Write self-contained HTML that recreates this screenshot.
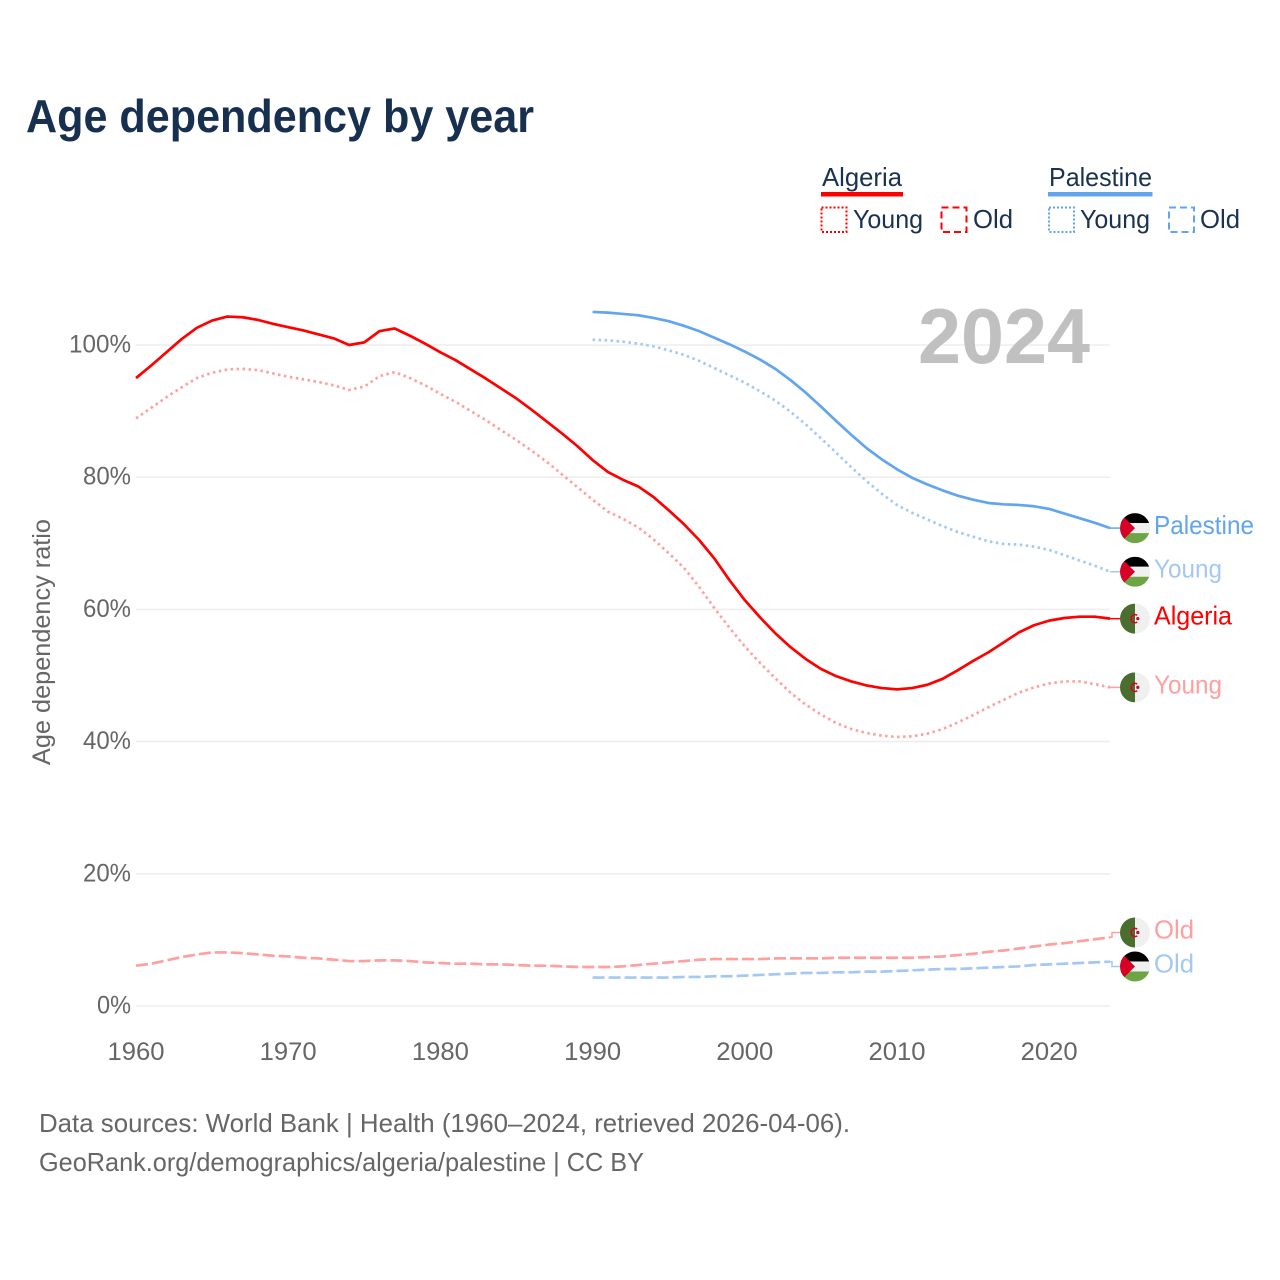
<!DOCTYPE html>
<html lang="en">
<head>
<meta charset="utf-8">
<title>Age dependency by year</title>
<style>
html,body{margin:0;padding:0;background:#fff;}
svg{display:block;}
text{font-family:"Liberation Sans",sans-serif;}
</style>
</head>
<body>
<svg id="chart" xmlns="http://www.w3.org/2000/svg" width="1280" height="1280" viewBox="0 0 1280 1280">
  <rect x="0" y="0" width="1280" height="1280" fill="#fff"/>
  <text x="26" y="132" font-size="46" font-weight="700" fill="#17304f" textLength="508" lengthAdjust="spacingAndGlyphs">Age dependency by year</text>

  <g font-size="26" fill="#1a3252">
    <text x="822" y="186" textLength="80" lengthAdjust="spacingAndGlyphs">Algeria</text>
    <rect x="821" y="192" width="82" height="4.5" fill="#ff0000"/>
    <rect x="821.500" y="207.500" width="25" height="24.500" fill="none" stroke="#ff0000" stroke-width="2" stroke-dasharray="2 2"/>
    <text x="853" y="228" textLength="70" lengthAdjust="spacingAndGlyphs">Young</text>
    <rect x="941.500" y="207.500" width="25" height="24.500" fill="none" stroke="#ff0000" stroke-width="2" stroke-dasharray="7 4"/>
    <text x="973" y="228" textLength="40" lengthAdjust="spacingAndGlyphs">Old</text>
    <text x="1049" y="186" textLength="103" lengthAdjust="spacingAndGlyphs">Palestine</text>
    <rect x="1048" y="192" width="104.500" height="4.5" fill="#62a5ee"/>
    <rect x="1049" y="207.500" width="25" height="24.500" fill="none" stroke="#62a5ee" stroke-width="2" stroke-dasharray="2 2"/>
    <text x="1080" y="228" textLength="70" lengthAdjust="spacingAndGlyphs">Young</text>
    <rect x="1169" y="207.500" width="25" height="24.500" fill="none" stroke="#62a5ee" stroke-width="2" stroke-dasharray="7 4"/>
    <text x="1200" y="228" textLength="40" lengthAdjust="spacingAndGlyphs">Old</text>
  </g>

  <text transform="translate(50,642) rotate(-90)" text-anchor="middle" font-size="25" fill="#666" textLength="246" lengthAdjust="spacingAndGlyphs">Age dependency ratio</text>

  <g id="grid"></g>
  <text x="918" y="363" font-size="78" font-weight="700" fill="#c0c0c0" textLength="172" lengthAdjust="spacingAndGlyphs">2024</text>
  <g id="yticks"></g>
  <g id="xticks"></g>
  <g id="series"></g>
  <g id="labels"></g>

  <text x="39" y="1132" font-size="26" fill="#666" textLength="811" lengthAdjust="spacingAndGlyphs">Data sources: World Bank | Health (1960–2024, retrieved 2026-04-06).</text>
  <text x="39" y="1171" font-size="26" fill="#666" textLength="605" lengthAdjust="spacingAndGlyphs">GeoRank.org/demographics/algeria/palestine | CC BY</text>

  <defs>
    <clipPath id="flag-clip"><circle cx="0" cy="0" r="15"/></clipPath>
  </defs>
</svg>
<script>
const algeriaStart = 1960;
const palestineStart = 1990;
const xTickYears = [1960, 1970, 1980, 1990, 2000, 2010, 2020];
const yTickValues = [0, 20, 40, 60, 80, 100];
const yTickLabels = ['0%', '20%', '40%', '60%', '80%', '100%'];

const algeriaTotal = [95.0,96.9,98.9,100.9,102.6,103.7,104.3,104.2,103.8,103.2,102.7,102.2,101.6,101.0,100.0,100.4,102.1,102.5,101.4,100.2,98.9,97.7,96.3,94.9,93.4,91.9,90.2,88.4,86.6,84.7,82.6,80.8,79.6,78.6,77.0,75.0,72.9,70.5,67.7,64.4,61.4,58.8,56.4,54.3,52.5,51.0,49.9,49.1,48.5,48.1,47.9,48.1,48.6,49.5,50.8,52.2,53.5,55.0,56.5,57.6,58.3,58.7,58.9,58.9,58.6];
const algeriaYoung = [88.9,90.5,92.1,93.6,95.0,95.8,96.3,96.4,96.2,95.7,95.2,94.8,94.4,93.9,93.2,93.7,95.3,95.9,95.0,93.9,92.6,91.4,90.0,88.6,87.1,85.6,84.0,82.3,80.4,78.5,76.6,74.8,73.7,72.4,70.6,68.5,66.3,63.4,60.2,57.2,54.4,51.9,49.6,47.4,45.6,44.1,42.8,41.9,41.3,40.9,40.7,40.8,41.2,41.9,42.9,44.0,45.2,46.3,47.4,48.2,48.8,49.1,49.1,48.7,48.2];
const algeriaOld = [6.1,6.4,6.9,7.4,7.8,8.1,8.1,8.0,7.8,7.6,7.5,7.3,7.2,7.0,6.8,6.8,6.9,6.9,6.8,6.6,6.5,6.4,6.4,6.3,6.3,6.2,6.1,6.1,6.0,5.9,5.9,5.9,6.0,6.2,6.4,6.6,6.8,7.0,7.1,7.1,7.1,7.1,7.2,7.2,7.2,7.2,7.3,7.3,7.3,7.3,7.3,7.3,7.4,7.5,7.7,7.9,8.2,8.4,8.7,9.0,9.3,9.5,9.8,10.1,10.4];

const palestineTotal = [105.0,104.9,104.7,104.5,104.1,103.6,102.9,102.1,101.1,100.1,99.0,97.8,96.4,94.7,92.8,90.7,88.5,86.4,84.4,82.7,81.2,79.9,78.9,78.0,77.2,76.6,76.1,75.9,75.8,75.6,75.2,74.5,73.8,73.1,72.3];
const palestineYoung = [100.8,100.7,100.5,100.2,99.8,99.2,98.5,97.6,96.5,95.4,94.3,93.0,91.6,89.9,88.0,85.9,83.7,81.5,79.4,77.5,75.8,74.6,73.6,72.6,71.7,71.0,70.3,69.9,69.8,69.5,69.0,68.2,67.4,66.6,65.7];
const palestineOld = [4.3,4.3,4.3,4.3,4.3,4.3,4.4,4.4,4.5,4.5,4.6,4.7,4.8,4.9,5.0,5.0,5.1,5.1,5.2,5.2,5.3,5.4,5.5,5.6,5.6,5.7,5.8,5.9,6.0,6.2,6.3,6.4,6.5,6.6,6.7];

const SVGNS = 'http://www.w3.org/2000/svg';
function xScale(year) { return 136 + (year - 1960) * 15.22; }
function yScale(value) { return 1006 - value * 6.61; }
function make(tag, attrs, parent) {
  const el = document.createElementNS(SVGNS, tag);
  Object.keys(attrs).forEach(function (k) { el.setAttribute(k, attrs[k]); });
  parent.appendChild(el);
  return el;
}

const gridLayer = document.getElementById('grid');
const yTickLayer = document.getElementById('yticks');
const xTickLayer = document.getElementById('xticks');
const seriesLayer = document.getElementById('series');
const labelLayer = document.getElementById('labels');

yTickValues.forEach(function (v, i) {
  const line = make('line', {x1: 136, x2: 1110, y1: yScale(v), y2: yScale(v), stroke: '#eeeeee', 'stroke-width': 1.6}, gridLayer);
  
  
  const len = (yTickLabels[i].length - 1) * 14 + 20;
  const t = make('text', {x: 131 - len, y: yScale(v) + 7.500, 'font-size': 25, fill: '#666', textLength: len, lengthAdjust: 'spacingAndGlyphs'}, yTickLayer);
  
  
  t.textContent = yTickLabels[i];
});

xTickYears.forEach(function (year) {
  const t = make('text', {x: xScale(year) - 28.500, y: 1060, 'font-size': 25, fill: '#666', textLength: 57, lengthAdjust: 'spacingAndGlyphs'}, xTickLayer);
  
  
  t.textContent = String(year);
});

const seriesList = [
  {key: 'palestine-total', label: 'Palestine', values: palestineTotal, start: palestineStart, color: '#62a5ee', dash: '', flag: 'palestine', w: 100},
  {key: 'palestine-young', label: 'Young', values: palestineYoung, start: palestineStart, color: '#a3c8f2', dash: '2.5 3.5', flag: 'palestine', w: 68},
  {key: 'algeria-total', label: 'Algeria', values: algeriaTotal, start: algeriaStart, color: '#ff0000', dash: '', flag: 'algeria', w: 78},
  {key: 'algeria-young', label: 'Young', values: algeriaYoung, start: algeriaStart, color: '#ff9f9f', dash: '2.5 3.5', flag: 'algeria', w: 68},
  {key: 'algeria-old', label: 'Old', values: algeriaOld, start: algeriaStart, color: '#ff9f9f', dash: '12 4', flag: 'algeria', w: 40},
  {key: 'palestine-old', label: 'Old', values: palestineOld, start: palestineStart, color: '#a3c8f2', dash: '12 4', flag: 'palestine', w: 40}
];

// Spread the end labels so flags keep a minimum vertical gap.
const MIN_GAP = 34;
seriesList.forEach(function (s) {
  s.lastY = yScale(s.values[s.values.length - 1]);
  s.flagY = s.lastY;
});
for (let i = 0; i + 1 < seriesList.length; i++) {
  const a = seriesList[i], b = seriesList[i + 1];
  if (b.flagY - a.flagY < MIN_GAP) {
    const mid = (a.flagY + b.flagY) / 2;
    a.flagY = mid - MIN_GAP / 2;
    b.flagY = mid + MIN_GAP / 2;
  }
}

function drawFlag(kind, cy) {
  const g = make('g', {transform: 'translate(1135,' + cy + ')', 'clip-path': 'url(#flag-clip)'}, labelLayer);
  
  
  if (kind === 'palestine') {
    make('rect', {x: -15, y: -15, width: 30, height: 10, fill: '#000'}, g);
    make('rect', {x: -15, y: -5, width: 30, height: 10, fill: '#f0f0f0'}, g);
    make('rect', {x: -15, y: 5, width: 30, height: 10, fill: '#6da544'}, g);
    make('polygon', {points: '-15,-15 0,0 -15,15', fill: '#d80027'}, g);
  } else {
    make('rect', {x: -15, y: -15, width: 15, height: 30, fill: '#496e2d'}, g);
    make('rect', {x: 0, y: -15, width: 15, height: 30, fill: '#f0f0f0'}, g);
    make('path', {d: 'M2.200 -3.400 A4 4 0 1 0 2.200 3.400', fill: 'none', stroke: '#d80027', 'stroke-width': 1.6}, g);
    make('circle', {cx: 2.800, cy: 0, r: 1.600, fill: '#d80027'}, g);
  }
}

seriesList.forEach(function (s) {
  const pts = s.values.map(function (v, i) {
    return xScale(s.start + i).toFixed(2) + ',' + yScale(v).toFixed(2);
  }).join(' ');
  const line = make('polyline', {points: pts, fill: 'none', stroke: s.color, 'stroke-width': 2.7, 'stroke-linejoin': 'round'}, seriesLayer);
  if (s.dash) { line.setAttribute('stroke-dasharray', s.dash); }
  
  

  const lastX = xScale(s.start + s.values.length - 1);
  const stub = make('path', {d: 'M' + lastX + ' ' + s.lastY + ' H1112 V' + s.flagY + ' H1120', fill: 'none', stroke: s.color, 'stroke-width': 1.5}, labelLayer);
  
  

  drawFlag(s.flag, s.flagY);

  const t = make('text', {x: 1154, y: s.flagY + 6, 'font-size': 26, fill: s.color, textLength: s.w, lengthAdjust: 'spacingAndGlyphs'}, labelLayer);
  
  
  t.textContent = s.label;
});
</script>
</body>
</html>
